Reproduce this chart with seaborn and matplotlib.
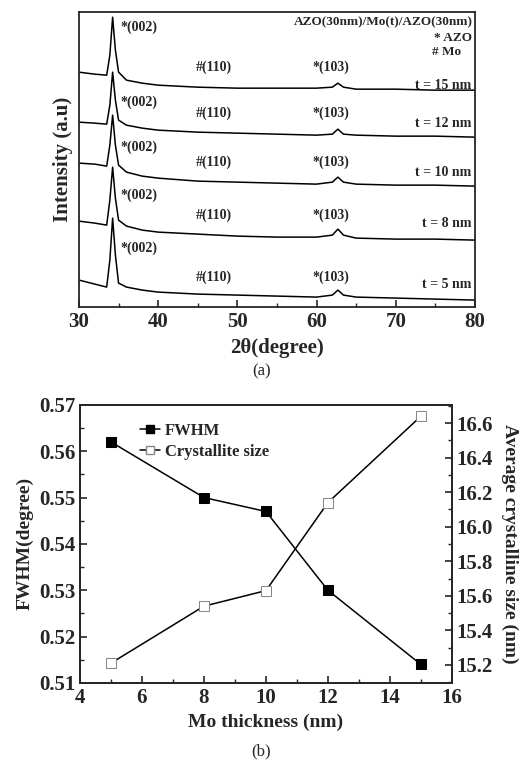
import pandas as pd
import seaborn as sns
import matplotlib.pyplot as plt
from matplotlib.ticker import MultipleLocator
from matplotlib.lines import Line2D

# XRD patterns (a.u., offsets included)
two_theta = [30, 32, 33.5, 33.9, 34.25, 34.6, 35, 36, 38, 40, 45, 50, 55, 60,
             62, 62.7, 63.4, 65, 70, 75, 80]
int_15 = [235, 233, 232, 252, 290, 257, 235, 227, 224, 222, 220, 219, 219, 219,
          220, 224, 220, 218, 218, 217, 217]
int_12 = [185, 184, 183, 202, 235, 207, 187, 182, 179, 177, 175, 174, 173, 172,
          173, 178, 173, 172, 171, 171, 170]
int_10 = [144, 143, 141, 162, 192, 162, 142, 135, 131, 129, 126, 125, 124, 123,
          125, 130, 125, 123, 122, 122, 121]
int_8 = [86, 84, 82, 107, 140, 109, 87, 81, 77, 75, 73, 71, 70, 70,
         72, 78, 72, 69, 68, 68, 67]
int_5 = [27, 23, 20, 47, 89, 52, 24, 20, 17, 15, 13, 12, 11, 10,
         12, 17, 12, 10, 9, 8, 7]
t_labels = ['t = 15 nm', 't = 12 nm', 't = 10 nm', 't = 8 nm', 't = 5 nm']

# FWHM / crystallite size
mo_thick = [5, 8, 10, 12, 15]
fwhm = [0.562, 0.550, 0.547, 0.530, 0.514]
cryst = [15.21, 15.54, 15.63, 16.14, 16.64]

sns.set_style('ticks')
plt.rcParams['font.family'] = ['Liberation Serif', 'DejaVu Serif']
plt.rcParams['font.weight'] = 'bold'
plt.rcParams['axes.labelweight'] = 'bold'
plt.rcParams['axes.linewidth'] = 1.3
plt.rcParams['xtick.direction'] = 'in'
plt.rcParams['ytick.direction'] = 'in'

fig = plt.figure(figsize=(5.23, 7.62), dpi=100)

### (a) XRD ###
ax1 = fig.add_axes([0.151, 0.597, 0.757, 0.387])
curves = [int_15, int_12, int_10, int_8, int_5]
rows = []
for lab, ys in zip(t_labels, curves):
    for x, y in zip(two_theta, ys):
        rows.append({'2theta': x, 'I': y, 't': lab})
df = pd.DataFrame(rows)
sns.lineplot(data=df, x='2theta', y='I', hue='t', palette=['black'] * 5,
             legend=False, linewidth=1.1, ax=ax1)
ax1.set_xlim(30, 80)
ax1.set_ylim(0, 295)
ax1.set_yticks([])
ax1.xaxis.set_major_locator(MultipleLocator(10))
ax1.xaxis.set_minor_locator(MultipleLocator(5))
ax1.tick_params(axis='x', labelsize=15, length=5, width=1.2)
ax1.tick_params(axis='x', which='minor', length=3, width=1.0)
ax1.set_xlabel('2θ(degree)', fontsize=15)
ax1.set_ylabel('Intensity (a.u)', fontsize=15)

p002_y = [280, 205, 160, 112, 59]
p110_y = [240, 194, 145, 92, 30]
t_y = [222, 184, 135, 84, 23]
for a, b, c, lab in zip(p002_y, p110_y, t_y, t_labels):
    ax1.text(35.2, a, '*(002)', fontsize=10, va='center')
    ax1.text(44.8, b, '#(110)', fontsize=10, va='center')
    ax1.text(59.5, b, '*(103)', fontsize=10, va='center')
    ax1.text(79.6, c, lab, fontsize=10, va='center', ha='right')
ax1.text(79.8, 285, 'AZO(30nm)/Mo(t)/AZO(30nm)', fontsize=9.5, va='center', ha='right')
ax1.text(79.6, 269, '* AZO', fontsize=9.5, va='center', ha='right')
ax1.text(78.3, 255, '# Mo', fontsize=9.5, va='center', ha='right')

fig.text(0.5, 0.512, '(a)', ha='center', va='center', fontsize=12, fontweight='normal')

### (b) FWHM and crystallite size ###
ax2 = fig.add_axes([0.153, 0.1037, 0.711, 0.365])
sns.lineplot(x=mo_thick, y=fwhm, marker='s', color='black', markersize=7,
             markeredgecolor='black', linewidth=1.1, ax=ax2)
ax2.set_xlim(4, 16)
ax2.set_ylim(0.51, 0.57)
ax2.xaxis.set_major_locator(MultipleLocator(2))
ax2.xaxis.set_minor_locator(MultipleLocator(1))
ax2.yaxis.set_major_locator(MultipleLocator(0.01))
ax2.yaxis.set_minor_locator(MultipleLocator(0.005))
ax2.tick_params(labelsize=15, length=5, width=1.2)
ax2.tick_params(which='minor', length=3, width=1.0)
ax2.set_xlabel('Mo thickness (nm)', fontsize=14)
ax2.set_ylabel('FWHM(degree)', fontsize=14)

ax3 = ax2.twinx()
sns.lineplot(x=mo_thick, y=cryst, marker='s', color='black', markersize=7,
             markerfacecolor='white', markeredgecolor='#888888', linewidth=1.1, ax=ax3)
ax3.set_ylim(15.095, 16.706)
ax3.yaxis.set_major_locator(MultipleLocator(0.2))
ax3.yaxis.set_minor_locator(MultipleLocator(0.1))
ax3.tick_params(labelsize=15, length=5, width=1.2)
ax3.tick_params(which='minor', length=3, width=1.0)
ax3.set_ylabel('Average crystalline size (nm)', fontsize=14, rotation=270, labelpad=18)

handles = [Line2D([], [], color='black', marker='s', markersize=6, linewidth=1.1),
           Line2D([], [], color='black', marker='s', markersize=6, markerfacecolor='white',
                  markeredgecolor='#888888', linewidth=1.1)]
ax2.legend(handles, ['FWHM', 'Crystallite size'], loc='upper left',
           bbox_to_anchor=(0.12, 0.99), frameon=False, fontsize=12,
           handlelength=1.2, handletextpad=0.3, labelspacing=0.3)

fig.text(0.5, 0.0145, '(b)', ha='center', va='center', fontsize=12, fontweight='normal')

fig.savefig('out.png', dpi=100)
